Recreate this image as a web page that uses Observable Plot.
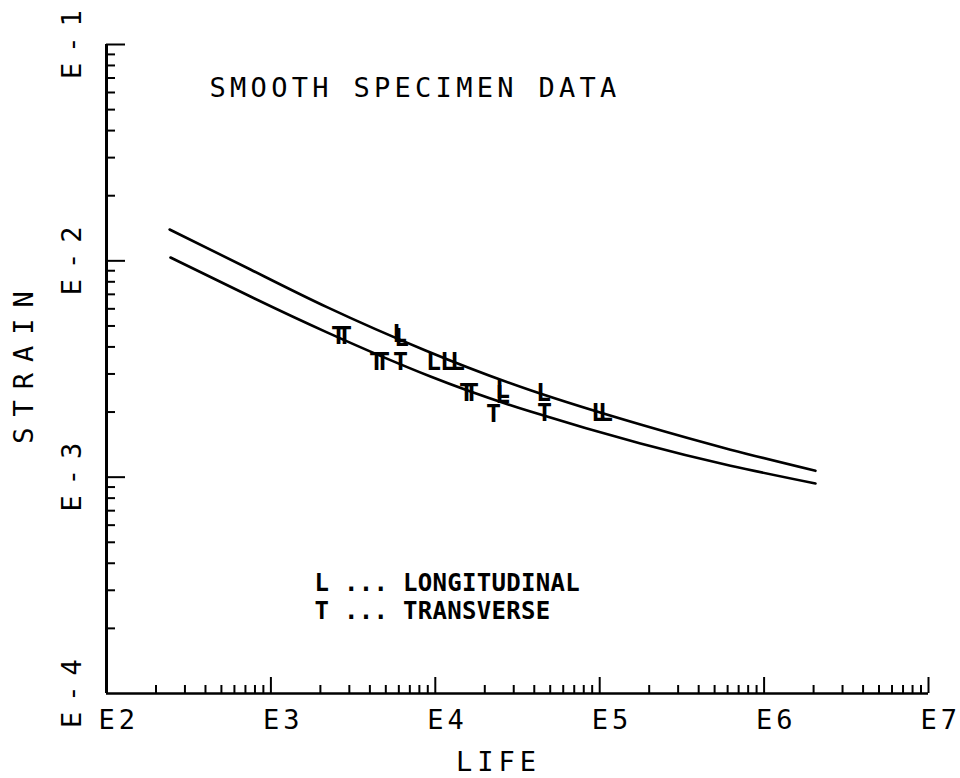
<!DOCTYPE html>
<html>
<head>
<meta charset="utf-8">
<script src="https://cdn.jsdelivr.net/npm/d3@7"></script>
<script src="https://cdn.jsdelivr.net/npm/@observablehq/plot@0.6"></script>
<style>
html, body { margin: 0; padding: 0; background: #fff; overflow: hidden; }
#chart svg { display: block; }
</style>
</head>
<body>
<div id="chart"></div>
<script>
// ---- Tick values and labels ----
const xDecades = [1e2, 1e3, 1e4, 1e5, 1e6, 1e7];
const xDecadeLabels = ["E2", "E3", "E4", "E5", "E6", "E7"];
const yDecades = [1e-1, 1e-2, 1e-3, 1e-4];
const yDecadeLabels = ["E-1", "E-2", "E-3", "E-4"];
const minorMultipliers = [2, 3, 4, 5, 6, 7, 8, 9];

// ---- Fitted curves ----
const upperLife   = [242, 751, 2210, 8720, 37940, 177100, 624600, 2054000];
const upperStrain = [0.01396, 0.00912, 0.00609, 0.00385, 0.00252, 0.00175, 0.00134, 0.00107];
const lowerLife   = [245, 751, 2210, 9350, 37940, 177100, 624600, 2054000];
const lowerStrain = [0.01036, 0.00684, 0.00466, 0.00292, 0.00201, 0.00143, 0.00113, 0.000935];

// ---- Specimen data ----
const longLife   = [6057, 6230, 9752, 11868, 13646, 25630, 25630, 45520, 98330, 108500];
const longStrain = [0.00457, 0.00442, 0.00339, 0.00339, 0.00339, 0.00254, 0.00239, 0.00244, 0.00197, 0.00197];
const transLife   = [2577, 2803, 4388, 4773, 6143, 15480, 16610, 22590, 46150];
const transStrain = [0.00447, 0.00447, 0.00339, 0.00339, 0.00342, 0.00246, 0.00246, 0.00195, 0.00197];

// ---- Texts ----
const titleText = "SMOOTH SPECIMEN DATA";
const xTitle = "LIFE";
const yTitle = "STRAIN";
const legendL = "L ... LONGITUDINAL";
const legendT = "T ... TRANSVERSE";

// ---- Layout ----
const W = 960, H = 778;
const mL = 106, mR = 32, mT = 44, mB = 85;
const frameW = W - mL - mR, frameH = H - mT - mB;
const plotFont = "DejaVu Sans Mono";

const xMinor = xDecades.slice(0, -1).flatMap(d => minorMultipliers.map(m => d * m));
const yMinor = yDecades.slice(1).flatMap(d => minorMultipliers.map(m => d * m));
const xMajor = xDecades.slice(1);
const yMajor = yDecades.slice(0, -1);

const upper = upperLife.map((x, i) => ({x, y: upperStrain[i]}));
const lower = lowerLife.map((x, i) => ({x, y: lowerStrain[i]}));
const points = [
  ...longLife.map((x, i) => ({x, y: longStrain[i], t: "L"})),
  ...transLife.map((x, i) => ({x, y: transStrain[i], t: "T"}))
];
const xLabelRows = xDecades.map((d, i) => ({d, label: xDecadeLabels[i]}));
const yLabelRows = yDecades.map((d, i) => ({d, label: yDecadeLabels[i]}));

const svg = Plot.plot({
  width: W, height: H,
  marginLeft: mL, marginRight: mR, marginTop: mT, marginBottom: mB,
  x: {type: "log", domain: [1e2, 1e7], axis: null},
  y: {type: "log", domain: [1e-4, 1e-1], axis: null},
  style: {background: "white", color: "black", fontFamily: plotFont},
  marks: [
    // axis ticks (pointing inward)
    Plot.tickX(xMinor, {x: d => d, insetTop: frameH - 8, stroke: "black", strokeWidth: 2}),
    Plot.tickX(xMajor, {x: d => d, insetTop: frameH - 16, stroke: "black", strokeWidth: 2}),
    Plot.tickY(yMinor, {y: d => d, insetRight: frameW - 9, stroke: "black", strokeWidth: 2}),
    Plot.tickY(yMajor, {y: d => d, insetRight: frameW - 19, stroke: "black", strokeWidth: 2}),
    // axis lines
    Plot.ruleY([1e-4], {stroke: "black", strokeWidth: 2.5}),
    Plot.ruleX([1e2], {stroke: "black", strokeWidth: 3}),
    // tick labels
    Plot.text(xLabelRows, {x: "d", text: "label", frameAnchor: "bottom", dy: 27, dx: -8,
      textAnchor: "start", lineAnchor: "middle", fontSize: 27, fill: "black"}),
    Plot.text(yLabelRows, {y: "d", text: "label", frameAnchor: "left", dx: -34, dy: -5,
      rotate: -90, textAnchor: "middle", lineAnchor: "middle", fontSize: 27, fill: "black"}),
    // axis titles
    Plot.text([xTitle], {frameAnchor: "bottom", dx: -19, dy: 69, textAnchor: "middle",
      lineAnchor: "middle", fontSize: 27, fill: "black"}),
    Plot.text([yTitle], {frameAnchor: "left", dx: -82, dy: -7, rotate: -90, textAnchor: "middle",
      lineAnchor: "middle", fontSize: 27, fill: "black"}),
    // title inside frame
    Plot.text([titleText], {frameAnchor: "top-left", dx: 103, dy: 44, textAnchor: "start",
      lineAnchor: "middle", fontSize: 27, fill: "black"}),
    // legend
    Plot.text([legendL], {frameAnchor: "top-left", dx: 208, dy: 539, textAnchor: "start",
      lineAnchor: "middle", fontSize: 24, fontWeight: "bold", fill: "black"}),
    Plot.text([legendT], {frameAnchor: "top-left", dx: 208, dy: 567, textAnchor: "start",
      lineAnchor: "middle", fontSize: 24, fontWeight: "bold", fill: "black"}),
    // curves
    Plot.line(upper, {x: "x", y: "y", curve: "natural", stroke: "black", strokeWidth: 2.6}),
    Plot.line(lower, {x: "x", y: "y", curve: "natural", stroke: "black", strokeWidth: 2.6}),
    // data symbols
    Plot.text(points, {x: "x", y: "y", text: "t", fontSize: 25, fontWeight: "bold",
      textAnchor: "middle", lineAnchor: "middle", fill: "black"})
  ]
});

const spacing = new Map([
  ...xDecadeLabels.map(s => [s, 4]),
  ...yDecadeLabels.map(s => [s, 10]),
  [xTitle, 5], [yTitle, 11], [titleText, 4.3], [legendL, 0.3], [legendT, 0.3]
]);
svg.querySelectorAll("text").forEach(t => {
  const s = t.textContent;
  if (spacing.has(s)) t.setAttribute("letter-spacing", spacing.get(s));
});

document.getElementById("chart").appendChild(svg);
</script>
</body>
</html>
